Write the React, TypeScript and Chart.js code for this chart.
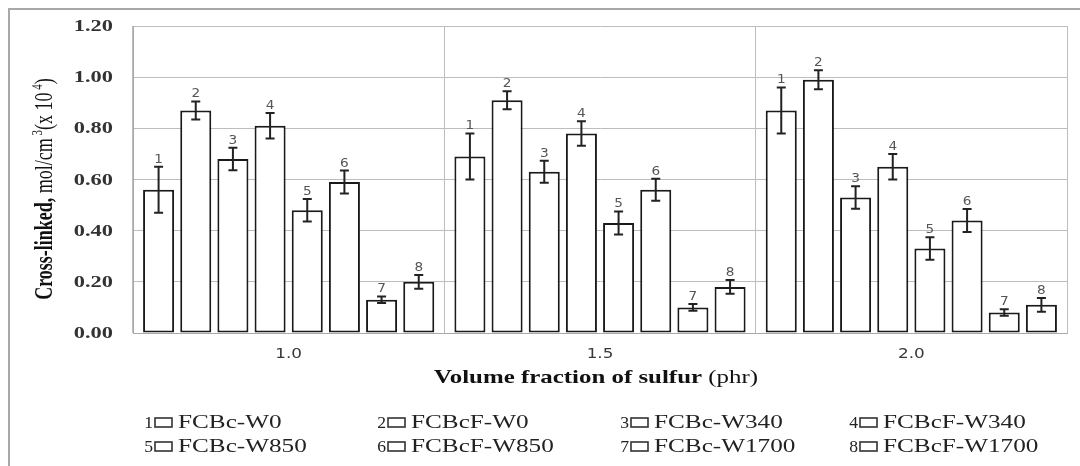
import React, { useEffect, useRef } from 'react';
import { Chart, registerables } from 'chart.js';

Chart.register(...registerables);

// ---------- data ----------
const categories = ['1.0', '1.5', '2.0'];
const seriesNames = [
  'FCBc-W0', 'FCBcF-W0', 'FCBc-W340', 'FCBcF-W340',
  'FCBc-W850', 'FCBcF-W850', 'FCBc-W1700', 'FCBcF-W1700',
];
const s1 = [0.56, 0.69, 0.87];
const s2 = [0.87, 0.91, 0.99];
const s3 = [0.68, 0.63, 0.53];
const s4 = [0.81, 0.78, 0.65];
const s5 = [0.48, 0.43, 0.33];
const s6 = [0.59, 0.56, 0.44];
const s7 = [0.13, 0.10, 0.08];
const s8 = [0.20, 0.18, 0.11];
const e1 = [0.09, 0.09, 0.09];
const e2 = [0.035, 0.035, 0.037];
const e3 = [0.044, 0.043, 0.044];
const e4 = [0.05, 0.048, 0.05];
const e5 = [0.044, 0.045, 0.044];
const e6 = [0.045, 0.043, 0.045];
const e7 = [0.013, 0.013, 0.013];
const e8 = [0.027, 0.027, 0.027];
const yMin = 0;
const yMax = 1.2;
const yStep = 0.2;
const xTitleBold = 'Volume fraction of sulfur';
const xTitleRest = ' (phr)';

const seriesValues = [s1, s2, s3, s4, s5, s6, s7, s8];
const seriesErrors = [e1, e2, e3, e4, e5, e6, e7, e8];

function drawText(ctx: CanvasRenderingContext2D, text: string, x: number, y: number, font: string, sx: number, align: 'left' | 'center' | 'right', color: string) {
  ctx.save();
  ctx.font = font;
  ctx.fillStyle = color;
  ctx.textBaseline = 'alphabetic';
  ctx.textAlign = 'left';
  const w = ctx.measureText(text).width * sx;
  const left = align === 'center' ? x - w / 2 : align === 'right' ? x - w : x;
  ctx.translate(left, y);
  ctx.scale(sx, 1);
  ctx.fillText(text, 0, 0);
  ctx.restore();
  return w;
}

const errorBarPlugin = {
  id: 'errorBars',
  afterDatasetsDraw(chart: any) {
    const ctx = chart.ctx as CanvasRenderingContext2D;
    const yScale = chart.scales.y;
    chart.data.datasets.forEach((ds: any, di: number) => {
      const meta = chart.getDatasetMeta(di);
      meta.data.forEach((el: any, i: number) => {
        const v = ds.data[i];
        const e = seriesErrors[di][i];
        const x = el.x;
        const yt = yScale.getPixelForValue(v + e);
        const yb = yScale.getPixelForValue(v - e);
        ctx.save();
        ctx.strokeStyle = '#222';
        ctx.lineWidth = 2;
        ctx.beginPath();
        ctx.moveTo(x, yt);
        ctx.lineTo(x, yb);
        ctx.moveTo(x - 4.5, yt);
        ctx.lineTo(x + 4.5, yt);
        ctx.moveTo(x - 4.5, yb);
        ctx.lineTo(x + 4.5, yb);
        ctx.stroke();
        ctx.restore();
        drawText(ctx, String(di + 1), x, yt - 4, '13px "DejaVu Sans"', 1.05, 'center', '#555');
      });
    });
  },
};

const decorPlugin = {
  id: 'decor',
  afterDraw(chart: any) {
    const ctx = chart.ctx as CanvasRenderingContext2D;
    const yScale = chart.scales.y;
    const xScale = chart.scales.x;
    const area = chart.chartArea;

    // outer frame
    ctx.save();
    ctx.strokeStyle = '#a8a8a8';
    ctx.lineWidth = 2;
    ctx.beginPath();
    ctx.moveTo(9, 466);
    ctx.lineTo(9, 9);
    ctx.lineTo(1080, 9);
    ctx.stroke();
    ctx.restore();

    // y tick labels
    yScale.ticks.forEach((t: any) => {
      const py = yScale.getPixelForValue(t.value);
      drawText(ctx, Number(t.value).toFixed(2), area.left - 20, py + 5, 'bold 16px "Liberation Serif"', 1.4, 'right', '#333');
    });

    // x tick labels
    categories.forEach((c, i) => {
      const px = xScale.getPixelForTick(i);
      drawText(ctx, c, px, 358, '14px "DejaVu Sans"', 1.2, 'center', '#383838');
    });

    // x title
    {
      const sx = 1.31;
      const fb = 'bold 19px "Liberation Serif"';
      const fr = '19px "Liberation Serif"';
      ctx.save();
      ctx.font = fb;
      const wb = ctx.measureText(xTitleBold).width * sx;
      ctx.font = fr;
      const wr = ctx.measureText(xTitleRest).width * sx;
      ctx.restore();
      const start = 596 - (wb + wr) / 2;
      drawText(ctx, xTitleBold, start, 383, fb, sx, 'left', '#111');
      drawText(ctx, xTitleRest, start + wb, 383, fr, sx, 'left', '#111');
    }

    // y title (rotated)
    {
      const fs = 18;
      const fb = `bold ${fs}px "Liberation Serif"`;
      const fr = `${fs}px "Liberation Serif"`;
      const fsup = `${Math.round(fs * 0.6)}px "Liberation Serif"`;
      const parts: [string, string, number][] = [
        ['Cross-linked,', fb, 0],
        [' mol/cm', fr, 0],
        [' 3', fsup, -0.4 * fs],
        ['(x 10', fr, 0],
        [' 4', fsup, -0.4 * fs],
        [')', fr, 0],
      ];
      ctx.save();
      let total = 0;
      const widths = parts.map(([t, f]) => { ctx.font = f; const w = ctx.measureText(t).width; total += w; return w; });
      ctx.translate(44, 189);
      ctx.rotate(-Math.PI / 2);
      ctx.scale(1, 1.35);
      ctx.fillStyle = '#111';
      ctx.textBaseline = 'alphabetic';
      ctx.textAlign = 'left';
      let x = -total / 2;
      parts.forEach(([t, f, dy], i) => {
        ctx.font = f;
        ctx.fillText(t, x, 6 + dy);
        x += widths[i];
      });
      ctx.restore();
    }

    // legend
    const squareLefts = [155, 388, 631, 860];
    const baselines = [428, 452];
    seriesNames.forEach((name, i) => {
      const col = i % 4;
      const row = Math.floor(i / 4);
      const sqL = squareLefts[col];
      const bl = baselines[row];
      drawText(ctx, String(i + 1), sqL - 2, bl, '16px "Liberation Serif"', 1.1, 'right', '#222');
      ctx.save();
      ctx.strokeStyle = '#333';
      ctx.lineWidth = 1.6;
      ctx.fillStyle = '#fff';
      ctx.fillRect(sqL, bl - 10, 17, 9);
      ctx.strokeRect(sqL, bl - 10, 17, 9);
      ctx.restore();
      drawText(ctx, name, sqL + 23, bl, '18px "Liberation Serif"', 1.4, 'left', '#222');
    });
  },
};

export default function App() {
  const ref = useRef<HTMLCanvasElement | null>(null);

  useEffect(() => {
    if (!ref.current) return;
    const chart = new Chart(ref.current, {
      type: 'bar',
      data: {
        labels: categories,
        datasets: seriesValues.map((vals, i) => ({
          label: seriesNames[i],
          data: vals,
          backgroundColor: '#ffffff',
          borderColor: '#1a1a1a',
          borderWidth: 2,
          borderSkipped: false,
          categoryPercentage: 0.955,
          barPercentage: 0.835,
        })),
      },
      options: {
        animation: false,
        responsive: false,
        devicePixelRatio: 1,
        layout: { padding: { left: 133, right: 13, top: 26, bottom: 133 } },
        plugins: {
          legend: { display: false },
          tooltip: { enabled: false },
          title: { display: false },
        },
        scales: {
          x: {
            offset: true,
            grid: { display: true, offset: true, color: '#bdbdbd', lineWidth: 1, drawTicks: false },
            border: { display: true, color: '#a8a8a8', width: 1 },
            ticks: { display: false },
            afterFit: (s: any) => { s.height = 0; },
          },
          y: {
            min: yMin,
            max: yMax,
            ticks: { display: false, stepSize: yStep },
            grid: { color: '#bdbdbd', lineWidth: 1, drawTicks: false },
            border: { display: true, color: '#a8a8a8', width: 1 },
            afterFit: (s: any) => { s.width = 0; },
          },
        },
      },
      plugins: [errorBarPlugin, decorPlugin],
    });
    return () => chart.destroy();
  }, []);

  return (
    <div style={{ position: 'absolute', left: 0, top: 0, width: 1080, height: 466, background: '#fff' }}>
      <canvas ref={ref} width={1080} height={466} style={{ display: 'block' }} />
    </div>
  );
}
